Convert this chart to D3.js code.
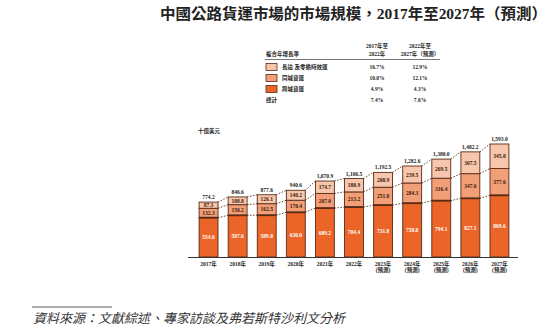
<!DOCTYPE html>
<html><head><meta charset="utf-8">
<script src="https://cdn.jsdelivr.net/npm/d3@7"></script>
<style>
body{margin:0;background:#fff;}
svg{display:block;}
</style></head>
<body>
<svg id="c" width="560" height="334"></svg>
<script>
const years = ["2017","2018","2019","2020","2021","2022","2023","2024","2025","2026","2027"];
const forecast = [false,false,false,false,false,false,true,true,true,true,true];
const bottomVals = [554.6,587.6,589.0,630.0,689.2,704.4,731.8,758.8,794.1,827.1,869.6];
const middleVals = [132.3,150.2,162.5,170.4,207.0,213.2,251.8,284.3,316.4,347.6,377.6];
const topVals    = [87.3,108.8,126.1,140.2,174.7,188.9,208.9,239.5,269.5,307.5,345.8];
const totalLabels = ["774.2","846.6","877.6","940.6","1,070.9","1,106.5","1,192.5","1,282.6","1,380.0","1,482.2","1,593.0"];
const seriesNames = ["長途 及零擔時效運","同城貨運","跨城貨運"];
const cagr1 = ["16.7%","10.0%","4.9%"];
const cagr2 = ["12.9%","12.1%","4.3%"];
const totalCagr = ["7.4%","7.6%"];

const colors = ["#F8C6AC","#F29F78","#EB6428"];
const dark = "#5a2c18";
const serif = "'Liberation Serif','Noto Sans CJK TC',serif";
const svg = d3.select("#c");

// Title
svg.append("text").attr("x",160).attr("y",19)
  .attr("textLength",387).attr("lengthAdjust","spacingAndGlyphs")
  .attr("font-family",serif).attr("font-weight","bold").attr("font-size",15).attr("fill","#222")
  .text("中國公路貨運市場的市場規模，2017年至2027年（預測）");

// Table
const t = svg.append("g").attr("font-family",serif).attr("font-weight","bold").attr("fill","#222");
t.append("text").attr("x",266).attr("y",56).attr("font-size",5.5).text("複合年增長率");
[["2017年至","2022年",377],["2022年至","2027年（預測）",420]].forEach(h=>{
  t.append("text").attr("x",h[2]).attr("y",48).attr("text-anchor","middle").attr("font-size",5.5).text(h[0]);
  t.append("text").attr("x",h[2]).attr("y",55.5).attr("text-anchor","middle").attr("font-size",5.5).text(h[1]);
});
svg.append("line").attr("x1",265).attr("x2",440).attr("y1",59.5).attr("y2",59.5).attr("stroke","#555").attr("stroke-width",0.8);
const rowY = [67,78,89];
seriesNames.forEach((n,i)=>{
  svg.append("rect").attr("x",266).attr("y",rowY[i]-3.5).attr("width",11).attr("height",7)
    .attr("fill",colors[i]).attr("stroke",dark).attr("stroke-width",0.8);
  t.append("text").attr("x",282).attr("y",rowY[i]+2).attr("font-size",5.5).text(n);
  t.append("text").attr("x",377).attr("y",rowY[i]+2).attr("text-anchor","middle").attr("font-size",5.5).text(cagr1[i]);
  t.append("text").attr("x",420).attr("y",rowY[i]+2).attr("text-anchor","middle").attr("font-size",5.5).text(cagr2[i]);
});
t.append("text").attr("x",266).attr("y",102).attr("font-size",5.5).text("總計");
t.append("text").attr("x",377).attr("y",102).attr("text-anchor","middle").attr("font-size",5.5).text(totalCagr[0]);
t.append("text").attr("x",420).attr("y",102).attr("text-anchor","middle").attr("font-size",5.5).text(totalCagr[1]);

// Chart
const x = d3.scaleBand().domain(years).range([194,514]).paddingInner(0.35).paddingOuter(0.175);
const y = d3.scaleLinear().domain([0,1593]).range([257,144]);
svg.append("text").attr("x",198).attr("y",133).attr("font-family",serif).attr("font-weight","bold")
  .attr("font-size",5.5).attr("fill","#222").text("十億美元");

const data = years.map((yr,i)=>({yr, b:bottomVals[i], m:middleVals[i], t:topVals[i]}));
const bw = x.bandwidth();

// dashed connectors
const levels = [d=>d.b, d=>d.b+d.m, d=>d.b+d.m+d.t];
levels.forEach(f=>{
  for(let i=0;i<data.length-1;i++){
    svg.append("line").attr("x1",x(data[i].yr)+bw).attr("y1",y(f(data[i])))
      .attr("x2",x(data[i+1].yr)).attr("y2",y(f(data[i+1])))
      .attr("stroke",dark).attr("stroke-width",0.9).attr("stroke-dasharray","1.5,1.5");
  }
});

const g = svg.append("g");
data.forEach((d,i)=>{
  const segs = [[0,d.b,colors[2],d.b,"#fff"],[d.b,d.b+d.m,colors[1],d.m,"#3a1a0a"],[d.b+d.m,d.b+d.m+d.t,colors[0],d.t,"#3a1a0a"]];
  segs.forEach(s=>{
    g.append("rect").attr("x",x(d.yr)).attr("y",y(s[1])).attr("width",bw).attr("height",y(s[0])-y(s[1]))
      .attr("fill",s[2]).attr("stroke",dark).attr("stroke-width",0.9);
    g.append("text").attr("x",x(d.yr)+bw/2).attr("y",(y(s[0])+y(s[1]))/2+2)
      .attr("text-anchor","middle").attr("font-family",serif).attr("font-weight","bold")
      .attr("font-size",5.5).attr("fill",s[4]).text(s[3].toFixed(1));
  });
  g.append("line").attr("x1",x(d.yr)).attr("x2",x(d.yr)+bw).attr("y1",y(d.b)).attr("y2",y(d.b))
    .attr("stroke",dark).attr("stroke-width",1.8);
  g.append("text").attr("x",x(d.yr)+bw/2).attr("y",y(d.b+d.m+d.t)-3)
    .attr("text-anchor","middle").attr("font-family",serif).attr("font-weight","bold")
    .attr("font-size",5.5).attr("fill","#222").text(totalLabels[i]);
});

// x axis
const ax = svg.append("g").attr("transform","translate(0,257)")
  .call(d3.axisBottom(x).tickSize(0).tickFormat(""));
ax.select(".domain").attr("d","M188,0.5H518").attr("stroke","#333").attr("stroke-width",1);
years.forEach((yr,i)=>{
  svg.append("text").attr("x",x(yr)+bw/2).attr("y",265.5).attr("text-anchor","middle")
    .attr("font-family",serif).attr("font-weight","bold").attr("font-size",5.5).attr("fill","#222").text(yr+"年");
  if(forecast[i]) svg.append("text").attr("x",x(yr)+bw/2).attr("y",271.5).attr("text-anchor","middle")
    .attr("font-family",serif).attr("font-weight","bold").attr("font-size",5.5).attr("fill","#222").text("(預測)");
});

// footnote
svg.append("line").attr("x1",32).attr("x2",112).attr("y1",307).attr("y2",307).attr("stroke","#333").attr("stroke-width",0.8);
svg.append("text").attr("x",33).attr("y",323).attr("font-family","'Noto Sans CJK TC',sans-serif")
  .attr("font-style","italic").attr("font-size",13).attr("fill","#333")
  .text("資料來源：文獻綜述、專家訪談及弗若斯特沙利文分析");
</script>
</body></html>
